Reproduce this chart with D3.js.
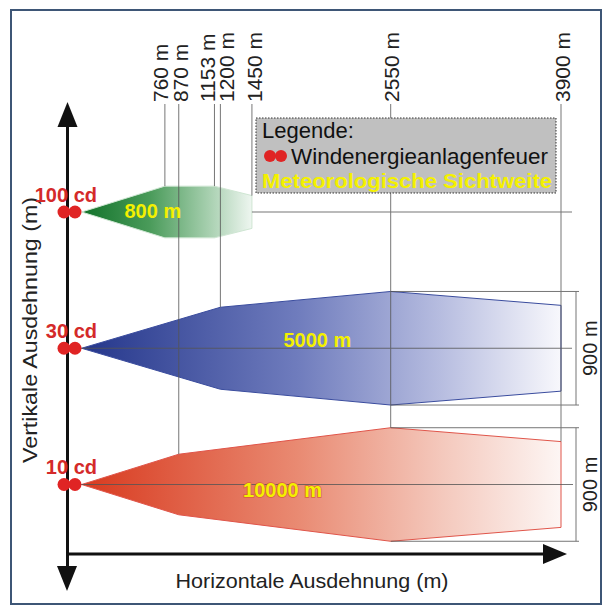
<!DOCTYPE html>
<html>
<head>
<meta charset="utf-8">
<script src="https://cdn.jsdelivr.net/npm/d3@7"></script>
<style>
  body { margin: 0; background: #fff; }
  svg { display: block; font-family: Arial, "Liberation Sans", sans-serif; }
</style>
</head>
<body>
<svg width="612" height="608"></svg>
<script>
// distances marked at the top (m)
const distances = [760, 870, 1153, 1200, 1450, 2550, 3900];
const distanceLabels = ["760 m", "870 m", "1153 m", "1200 m", "1450 m", "2550 m", "3900 m"];
// light intensities (one beam each)
const intensities = ["100 cd", "30 cd", "10 cd"];
const visibilities = ["800 m", "5000 m", "10000 m"];
// beam profiles: [distance m, half height m]
const greenProfile = [[100, 0], [760, 205], [1153, 205], [1450, 130]];
const blueProfile = [[100, 0], [1200, 325], [2550, 450], [3900, 340]];
const redProfile = [[100, 0], [870, 240], [2550, 450], [3900, 340]];
const spanLabel = "900 m";

const svg = d3.select("svg");

const x = d3.scaleLinear().domain([0, 3900]).range([69, 561]); // horizontal distance
const h = d3.scaleLinear().domain([0, 3900]).range([0, 492]);  // same scale for vertical spread
const y = d3.scalePoint().domain(intensities).range([212, 484.5]); // beam centre lines

const defs = svg.append("defs");
const grad = (id, stops) => {
  const lg = defs.append("linearGradient").attr("id", id).attr("x1", 0).attr("x2", 1).attr("y1", 0).attr("y2", 0);
  stops.forEach(s => lg.append("stop").attr("offset", s[0]).attr("stop-color", s[1]));
};
grad("gGreen", [[0, "#11722a"], [0.4, "#4a9b5a"], [0.75, "#a8d0b0"], [1, "#eef6f0"]]);
grad("gBlue", [[0, "#24368b"], [0.45, "#6f7cbd"], [0.75, "#b7bde0"], [1, "#f8f8fc"]]);
grad("gRed", [[0, "#d83a1f"], [0.45, "#e98a72"], [0.75, "#f4c8bc"], [1, "#fdf6f4"]]);

// frame
svg.append("rect").attr("x", 11).attr("y", 10).attr("width", 590).attr("height", 594)
  .attr("fill", "#fff").attr("stroke", "#3e5676").attr("stroke-width", 2);

// beam polygons
const beam = (profile, level) => {
  const top = profile.map(d => [x(d[0]), y(level) - h(d[1])]);
  const bottom = profile.slice().reverse().map(d => [x(d[0]), y(level) + h(d[1])]);
  return d3.line()(top.concat(bottom)) + "Z";
};
svg.append("path").attr("d", beam(greenProfile, intensities[0]))
  .attr("fill", "url(#gGreen)").attr("stroke", "#cfe6d3").attr("stroke-width", 1);
svg.append("path").attr("d", beam(blueProfile, intensities[1]))
  .attr("fill", "url(#gBlue)").attr("stroke", "#3a4c9e").attr("stroke-width", 1);
svg.append("path").attr("d", beam(redProfile, intensities[2]))
  .attr("fill", "url(#gRed)").attr("stroke", "#e0554a").attr("stroke-width", 1);

// guide lines
const guide = svg.append("g").attr("stroke", "#555").attr("stroke-width", 1).attr("opacity", 0.8);
const topAt = (profile, level, d) => {
  const p = profile.find(q => q[0] === d);
  return y(level) - h(p[1]);
};
const guideEnds = [
  topAt(greenProfile, intensities[0], 760),
  topAt(redProfile, intensities[2], 870),
  topAt(greenProfile, intensities[0], 1153),
  topAt(blueProfile, intensities[1], 1200),
  topAt(greenProfile, intensities[0], 1450),
  topAt(redProfile, intensities[2], 2550),
  topAt(redProfile, intensities[2], 3900)
];
distances.forEach((d, i) => {
  guide.append("line").attr("x1", x(d)).attr("x2", x(d)).attr("y1", 104).attr("y2", guideEnds[i]);
});
// centre lines
guide.append("line").attr("x1", x(1450)).attr("x2", 572).attr("y1", y(intensities[0])).attr("y2", y(intensities[0]));
guide.append("line").attr("x1", x(0)).attr("x2", 572).attr("y1", y(intensities[1])).attr("y2", y(intensities[1]));
guide.append("line").attr("x1", x(0)).attr("x2", 573).attr("y1", y(intensities[2])).attr("y2", y(intensities[2]));

// 900 m dimension lines
[[blueProfile, intensities[1]], [redProfile, intensities[2]]].forEach(([prof, lev]) => {
  const half = h(prof.find(q => q[0] === 2550)[1]);
  const y0 = y(lev) - half, y1 = y(lev) + half;
  guide.append("line").attr("x1", x(2550)).attr("x2", 579).attr("y1", y0).attr("y2", y0);
  guide.append("line").attr("x1", x(2550)).attr("x2", 579).attr("y1", y1).attr("y2", y1);
  guide.append("line").attr("x1", 576).attr("x2", 576).attr("y1", y0).attr("y2", y1);
  svg.append("text").attr("transform", `translate(597,${y(lev)}) rotate(-90)`)
    .attr("text-anchor", "middle").attr("font-size", 20).attr("fill", "#222").text(spanLabel);
});

// distance labels, rotated; baseline shift from the guide line
const labelShift = [3, 9, 1, 14, 10, 8, 9];
distances.forEach((d, i) => {
  svg.append("text").attr("transform", `translate(${x(d) + labelShift[i]},102) rotate(-90)`)
    .attr("font-size", 21).attr("fill", "#222").text(distanceLabels[i]);
});

// axes
const axis = svg.append("g").attr("stroke", "#111").attr("fill", "#111");
axis.append("line").attr("x1", 67.5).attr("x2", 67.5).attr("y1", 120).attr("y2", 575).attr("stroke-width", 3);
axis.append("line").attr("x1", 66).attr("x2", 548).attr("y1", 554).attr("y2", 554).attr("stroke-width", 3);
axis.append("path").attr("stroke", "none").attr("d", "M67.5,102L57.5,127L77.5,127Z");
axis.append("path").attr("stroke", "none").attr("d", "M67,591L57,566L77,566Z");
axis.append("path").attr("stroke", "none").attr("d", "M567,554L543,544L543,564Z");

svg.append("text").attr("transform", "translate(37,330) rotate(-90)").attr("text-anchor", "middle")
  .attr("font-size", 21).attr("fill", "#222")
  .attr("textLength", 266).attr("lengthAdjust", "spacingAndGlyphs").text("Vertikale Ausdehnung (m)");
svg.append("text").attr("x", 312).attr("y", 588).attr("text-anchor", "middle")
  .attr("font-size", 21).attr("fill", "#222")
  .attr("textLength", 273).attr("lengthAdjust", "spacingAndGlyphs").text("Horizontale Ausdehnung (m)");

// light sources and intensity labels
intensities.forEach(lev => {
  [64, 75].forEach(cx => svg.append("circle").attr("cx", cx).attr("cy", y(lev)).attr("r", 6.5).attr("fill", "#e02424"));
  svg.append("text").attr("x", 97).attr("y", y(lev) - 10.5).attr("text-anchor", "end")
    .attr("font-size", 20).attr("font-weight", "bold").attr("fill", "#d42a2a").text(lev);
});

// visibility labels
const visPos = [[440, 0], [1700, -7], [1380, 6]];
visibilities.forEach((v, i) => {
  svg.append("text").attr("x", x(visPos[i][0])).attr("y", y(intensities[i]) + visPos[i][1] + 6)
    .attr("font-size", 20).attr("font-weight", "bold").attr("fill", "#f4f000")
    .attr("stroke", i === 2 ? "#d86040" : "none").attr("stroke-width", 1.5).attr("paint-order", "stroke")
    .text(v);
});

// legend
const lg = svg.append("g");
lg.append("rect").attr("x", 256).attr("y", 118).attr("width", 300).attr("height", 75)
  .attr("fill", "#c0c0c0").attr("stroke", "#333").attr("stroke-dasharray", "1.5,1.5");
lg.append("text").attr("x", 262).attr("y", 138).attr("font-size", 22).attr("fill", "#111").text("Legende:");
[270, 281].forEach(cx => lg.append("circle").attr("cx", cx).attr("cy", 156).attr("r", 6).attr("fill", "#e02424"));
lg.append("text").attr("x", 291).attr("y", 164).attr("font-size", 22).attr("fill", "#111")
  .attr("textLength", 257).attr("lengthAdjust", "spacingAndGlyphs").text("Windenergieanlagenfeuer");
lg.append("text").attr("x", 262).attr("y", 188).attr("font-size", 21).attr("font-weight", "bold")
  .attr("fill", "#f4f000").attr("textLength", 290).attr("lengthAdjust", "spacingAndGlyphs")
  .text("Meteorologische Sichtweite");
</script>
</body>
</html>
